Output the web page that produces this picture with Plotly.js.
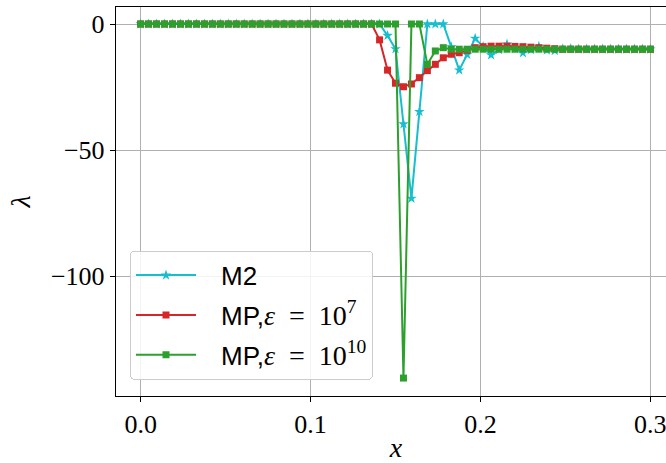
<!DOCTYPE html>
<html>
<head>
<meta charset="utf-8">
<script src="https://cdn.plot.ly/plotly-3.0.1.min.js"></script>
<style>
html, body { margin: 0; padding: 0; overflow: hidden; background: #fff; }
#chart { width: 680px; height: 463px; }
</style>
</head>
<body>
<div id="chart"></div>
<script>
// grid: x_i = i * 0.3 / 64, i = 0..64
const nPoints = 65;
const xMax = 0.3;
const xValues = [];
for (let i = 0; i < nPoints; i++) xValues.push(i * xMax / (nPoints - 1));

const mathSpan = "<span style=\"font-family:'Liberation Serif';font-size:28px\">";
const seriesNames = [
  'M2',
  'MP,' + mathSpan + '<i>ε</i>\u2002=\u200210<sup>7</sup></span>',
  'MP,' + mathSpan + '<i>ε</i>\u2002=\u200210<sup>10</sup></span>'
];

const m2Values = [
  0,0,0,0,0,0,0,0,0,0,
  0,0,0,0,0,0,0,0,0,0,
  0,0,0,0,0,0,0,0,0,0,
  0,-4.6,-9.9,-39.7,-69.2,-34.8,0,0,0,-9.1,
  -18.3,-12.1,-5.7,-9.0,-12.3,-10.2,-8.0,-9.8,-11.5,-10.2,
  -8.9,-10.4,-10.6,-9.9,-9.8,-10,-10,-10,-10,-10,
  -10,-10,-10,-10,-10
];

const mp7Values = [
  0,0,0,0,0,0,0,0,0,0,
  0,0,0,0,0,0,0,0,0,0,
  0,0,0,0,0,0,0,0,0,0,
  -6.3,-18.3,-23.5,-24.9,-23.8,-21.3,-18.5,-16.0,-13.4,-12.0,
  -11.4,-10.4,-9.4,-9.0,-8.8,-8.8,-8.8,-8.9,-9.0,-9.2,
  -9.4,-9.6,-9.8,-10,-10,-10,-10,-10,-10,-10,
  -10,-10,-10,-10,-10
];

const mp10Values = [
  0,0,0,0,0,0,0,0,0,0,
  0,0,0,0,0,0,0,0,0,0,
  0,0,0,0,0,0,0,0,0,0,
  0,0,0,-140.5,0,0,-16.0,-10.7,-9.4,-10.0,
  -10,-10,-10,-10,-10,-10,-10,-10,-10,-10,
  -10,-10,-10,-10,-10,-10,-10,-10,-10,-10,
  -10,-10,-10,-10,-10
];

const xTicks = [0, 0.1, 0.2, 0.3];
const yTicks = [0, -50, -100];

const traces = [
  {x: xValues, y: m2Values, name: seriesNames[0], legendgroup: 'g1', mode: 'lines+markers',
   line: {color: '#17becf', width: 2}, marker: {symbol: 'star', size: 8, color: '#17becf'}},
  {x: xValues, y: mp7Values, name: seriesNames[1], legendgroup: 'g2', mode: 'lines+markers',
   line: {color: '#d62728', width: 2}, marker: {symbol: 'square', size: 7, color: '#d62728'}},
  {x: xValues, y: mp10Values, name: seriesNames[2], legendgroup: 'g3', mode: 'lines+markers',
   line: {color: '#2ca02c', width: 2}, marker: {symbol: 'square', size: 7, color: '#2ca02c'}}
];

const serif = "'Liberation Serif', 'DejaVu Serif', serif";
const layout = {
  width: 680, height: 463,
  margin: {l: 116, r: 4, t: 7, b: 67},
  paper_bgcolor: '#fff', plot_bgcolor: '#fff',
  showlegend: true,
  legend: {
    x: 0.025, y: 0.3735, xanchor: 'left', yanchor: 'top',
    bgcolor: 'rgba(255,255,255,0.85)', bordercolor: '#cccccc', borderwidth: 1,
    font: {family: "'Liberation Sans', sans-serif", size: 26, color: '#000'},
    itemwidth: 80, tracegroupgap: 3
  },
  xaxis: {
    range: [-0.014506, 0.31509],
    tickvals: xTicks, tickformat: '.1f',
    showgrid: true, gridcolor: '#b0b0b0', gridwidth: 1,
    zeroline: false,
    showline: true, linecolor: '#000', linewidth: 1.25, mirror: true,
    ticks: 'outside', ticklen: 5, tickwidth: 1, tickcolor: '#000',
    tickfont: {family: serif, size: 26, color: '#000'},
    title: {text: '<i>x</i>', font: {family: serif, size: 28, color: '#000'}, standoff: 7}
  },
  yaxis: {
    range: [-147.62, 6.746],
    tickvals: yTicks,
    showgrid: true, gridcolor: '#b0b0b0', gridwidth: 1,
    zeroline: false,
    showline: true, linecolor: '#000', linewidth: 1.25, mirror: true,
    ticks: 'outside', ticklen: 5, tickwidth: 1, tickcolor: '#000',
    tickfont: {family: serif, size: 26, color: '#000'},
    title: {text: '<i>λ</i>', font: {family: serif, size: 28, color: '#000'}, standoff: 12}
  }
};

Plotly.newPlot('chart', traces, layout, {displayModeBar: false, staticPlot: true}).then(function (gd) {
  // longer legend sample lines, marker centred on them, rounded legend frame
  gd.querySelectorAll('.legend .legendlines path').forEach(function (p) { p.setAttribute('d', 'M5,0h60'); });
  gd.querySelectorAll('.legend .legendpoints path').forEach(function (p) { p.setAttribute('transform', 'translate(35,0)'); });
  gd.querySelectorAll('.legend rect.bg').forEach(function (r) { r.setAttribute('rx', 4); r.setAttribute('ry', 4); });
});
</script>
</body>
</html>
